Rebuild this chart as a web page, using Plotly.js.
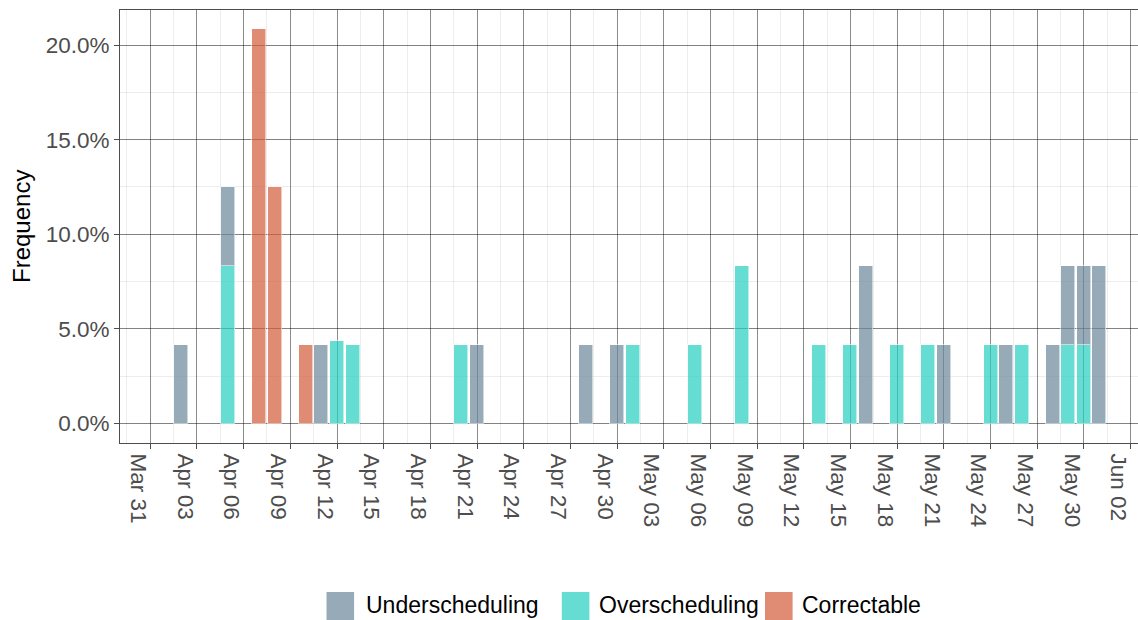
<!DOCTYPE html>
<html>
<head>
<meta charset="utf-8">
<script src="https://cdn.plot.ly/plotly-3.0.1.min.js"></script>
<style>
  html, body { margin: 0; padding: 0; background: #ffffff; }
  #chart { width: 1138px; height: 620px; }
</style>
</head>
<body>
<div id="chart"></div>
<script>
// ---- data (percent of all events per day) ----
const seriesNames = ['Underscheduling', 'Overscheduling', 'Correctable'];

const underDates = ['2021-04-02','2021-04-05','2021-04-11','2021-04-21','2021-04-28','2021-04-30',
                    '2021-05-16','2021-05-21','2021-05-25','2021-05-28','2021-05-29','2021-05-30','2021-05-31'];
const underValues = [4.17, 4.17, 4.17, 4.17, 4.17, 4.17, 8.33, 4.17, 4.17, 4.17, 4.17, 4.17, 8.33];

const overDates = ['2021-04-05','2021-04-12','2021-04-13','2021-04-20','2021-05-01','2021-05-05','2021-05-08',
                   '2021-05-13','2021-05-15','2021-05-18','2021-05-20','2021-05-24','2021-05-26','2021-05-29','2021-05-30'];
const overValues = [8.33, 4.35, 4.17, 4.17, 4.17, 4.17, 8.33, 4.17, 4.17, 4.17, 4.17, 4.17, 4.17, 4.17, 4.17];

const corrDates = ['2021-04-07','2021-04-08','2021-04-10'];
const corrValues = [20.83, 12.5, 4.17];

const yTickValues = [0, 5, 10, 15, 20];
const yTickLabels = yTickValues.map(v => v.toFixed(1) + '%');
const yTitle = 'Frequency';

// ---- styling ----
const colors = {
  'Underscheduling': 'rgba(105,134,152,0.70)',
  'Overscheduling':  'rgba(36,206,191,0.70)',
  'Correctable':     'rgba(211,91,59,0.70)'
};
const DAY = 86400000;
const FONT = '"Liberation Sans", Arial, Helvetica, sans-serif';

const M = {l: 120, r: 0, t: 10, b: 177};
const W = 1138, H = 620;
const plotW = W - M.l - M.r, plotH = H - M.t - M.b;
const px2x = x => (x - M.l) / plotW;
const px2y = y => (H - M.b - y) / plotH;

function barTrace(name, x, y) {
  return {
    type: 'bar', name: name, x: x, y: y,
    width: 0.9 * DAY,
    marker: { color: colors[name], line: { color: 'rgba(255,255,255,0.55)', width: 1 } },
    showlegend: false,
    hovertemplate: '%{x|%b %d}: %{y:.1f}%<extra>' + name + '</extra>'
  };
}

// stacking order: Correctable bottom, Overscheduling, Underscheduling on top
const traces = [
  barTrace('Correctable', corrDates, corrValues),
  barTrace('Overscheduling', overDates, overValues),
  barTrace('Underscheduling', underDates, underValues)
];

// ---- legend (drawn at bottom, as in the reference) ----
const legendSwatchX = [326.5, 561.8, 765.0];
const legendTextX = [364, 597, 800];
const shapes = [];
const annotations = [];
seriesNames.forEach((n, i) => {
  shapes.push({
    type: 'rect', xref: 'paper', yref: 'paper', layer: 'above',
    x0: px2x(legendSwatchX[i]), x1: px2x(legendSwatchX[i] + 27.6),
    y0: px2y(592), y1: px2y(621),
    fillcolor: colors[n], line: { width: 0 }
  });
  annotations.push({
    xref: 'paper', yref: 'paper', x: px2x(legendTextX[i]), y: px2y(605),
    xanchor: 'left', yanchor: 'middle', showarrow: false,
    text: n, font: { family: FONT, size: 23, color: '#000000' }
  });
});
// y-axis title
annotations.push({
  xref: 'paper', yref: 'paper', x: px2x(22), y: px2y(227),
  xanchor: 'center', yanchor: 'middle', showarrow: false, textangle: -90,
  text: yTitle, font: { family: FONT, size: 24, color: '#000000' }
});

const layout = {
  width: W, height: H,
  margin: M,
  paper_bgcolor: '#ffffff', plot_bgcolor: '#ffffff',
  barmode: 'stack',
  bargap: 0,
  showlegend: false,
  font: { family: FONT },
  xaxis: {
    type: 'date',
    range: ['2021-03-29 01:16', '2021-06-02 11:31'],
    tickmode: 'linear', tick0: '2021-03-31', dtick: 3 * DAY,
    tickformat: '%b %d',
    tickangle: 90,
    ticklabelshift: -12,
    ticks: 'outside', ticklen: 5, tickwidth: 1, tickcolor: '#4d4d4d',
    tickfont: { family: FONT, size: 22.5, color: '#4d4d4d' },
    showline: true, mirror: true, linecolor: '#4d4d4d', linewidth: 1,
    showgrid: true, gridcolor: 'rgba(0,0,0,0.45)', gridwidth: 1,
    minor: { tick0: '2021-03-31', dtick: 1.5 * DAY, showgrid: true, gridcolor: 'rgba(0,0,0,0.07)', gridwidth: 1 },
    zeroline: false, fixedrange: true
  },
  yaxis: {
    range: [-1.03, 21.85],
    tickmode: 'array', tickvals: yTickValues, ticktext: yTickLabels,
    ticks: 'outside', ticklen: 5, tickwidth: 1, tickcolor: '#4d4d4d',
    tickfont: { family: FONT, size: 22.5, color: '#4d4d4d' },
    showline: true, mirror: false, linecolor: '#4d4d4d', linewidth: 1,
    showgrid: true, gridcolor: 'rgba(0,0,0,0.45)', gridwidth: 1,
    minor: { dtick: 2.5, tick0: 0, showgrid: true, gridcolor: 'rgba(0,0,0,0.07)', gridwidth: 1 },
    zeroline: false,
    fixedrange: true
  },
  shapes: shapes,
  annotations: annotations
};

Plotly.newPlot('chart', traces, layout, { displayModeBar: false });
</script>
</body>
</html>
